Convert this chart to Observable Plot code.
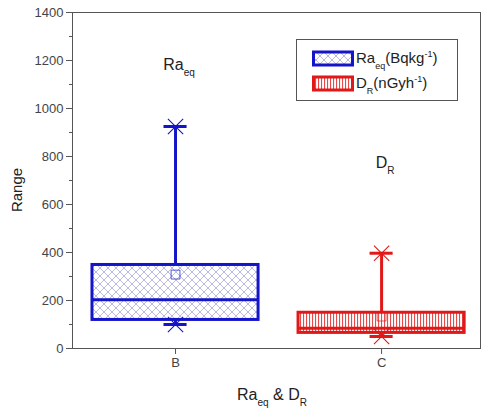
<!DOCTYPE html>
<html><head><meta charset="utf-8">
<script src="https://cdn.jsdelivr.net/npm/d3@7"></script>
<script src="https://cdn.jsdelivr.net/npm/@observablehq/plot@0.6"></script>
<style>body{margin:0;background:#fff} svg{display:block}</style>
</head><body><div id="chart"></div>
<script>
// ---- data ----
const categories = ["B", "C"];
const seriesNames = ["Ra_{eq}", "D_{R}"];
const legendLabels = ["Ra_{eq}(Bqkg^{-1})", "D_{R}(nGyh^{-1})"];
const minVals = [100, 50];
const q1Vals = [119, 65];
const medianVals = [203, 84];
const q3Vals = [348, 149];
const maxVals = [925, 397];
const meanVals = [308, 133];
const labelYVals = [1160, 750];
const yTicks = [0, 200, 400, 600, 800, 1000, 1200, 1400];
const yMinorTicks = [100, 300, 500, 700, 900, 1100, 1300];
const colors = ["#1414c8", "#e01818"];
const xTitle = "Ra_{eq} & D_{R}";
const yTitle = "Range";

const data = categories.map((c, i) => ({
  cat: c, pos: i + 1, min: minVals[i], q1: q1Vals[i], median: medianVals[i],
  q3: q3Vals[i], max: maxVals[i], mean: meanVals[i], labelY: labelYVals[i]
}));

const BW = 0.403, CW = 0.056;
const marks = [];
data.forEach((d, i) => {
  const col = colors[i];
  const one = [d];
  marks.push(
    Plot.ruleX(one, {x: "pos", y1: "q3", y2: "max", stroke: col, strokeWidth: 3}),
    Plot.ruleX(one, {x: "pos", y1: "min", y2: "q1", stroke: col, strokeWidth: 3}),
    Plot.rect(one, {x1: r => r.pos - BW, x2: r => r.pos + BW, y1: "q1", y2: "q3",
      fill: `url(#hatch${i})`, stroke: col, strokeWidth: 3}),
    Plot.ruleY(one, {x1: r => r.pos - BW, x2: r => r.pos + BW, y: "median", stroke: col, strokeWidth: 3}),
    Plot.ruleY(one, {x1: r => r.pos - CW, x2: r => r.pos + CW, y: "max", stroke: col, strokeWidth: 3}),
    Plot.ruleY(one, {x1: r => r.pos - CW, x2: r => r.pos + CW, y: "min", stroke: col, strokeWidth: 3}),
    Plot.dot(one, {x: "pos", y: "mean", symbol: "square", r: 5, stroke: col, strokeWidth: 1, fill: "none", strokeOpacity: 0.7}),
    Plot.dot(one, {x: "pos", y: "max", symbol: "times", r: 7, stroke: col, strokeWidth: 1.1}),
    Plot.dot(one, {x: "pos", y: "min", symbol: "times", r: 7, stroke: col, strokeWidth: 1.1})
  );
});

const chart = Plot.plot({
  width: 481, height: 415,
  marginLeft: 72, marginRight: 1, marginTop: 12, marginBottom: 67,
  style: {fontFamily: "'Liberation Sans', Arial, sans-serif", fontSize: "13px", color: "#444", background: "#fff", overflow: "visible"},
  x: {domain: [0.5, 2.48]},
  y: {domain: [0, 1400]},
  marks: [
    Plot.axisY({ticks: yTicks, tickFormat: d3.format("d"), tickSize: 6, tickPadding: 3, label: null, stroke: "#555"}),
    Plot.axisY({ticks: yMinorTicks, tickSize: 3, text: null, label: null, stroke: "#555"}),
    Plot.axisX({ticks: [1, 2], tickFormat: v => categories[v - 1], tickSize: 6, tickPadding: 3, label: null, stroke: "#555"}),
    ...marks,
    Plot.frame({stroke: "#555", strokeWidth: 1})
  ]
});

const svg = d3.select(chart);
// patterns
const defs = svg.insert("defs", ":first-child");
const p0 = defs.append("pattern").attr("id", "hatch0").attr("patternUnits", "userSpaceOnUse")
  .attr("width", 8).attr("height", 8);
p0.append("rect").attr("width", 8).attr("height", 8).attr("fill", "#fff");
p0.append("path").attr("d", "M0,0L8,8M8,0L0,8M-1,7L1,9M7,-1L9,1").attr("stroke", "#9c9cd4").attr("stroke-width", 0.7);
const p1 = defs.append("pattern").attr("id", "hatch1").attr("patternUnits", "userSpaceOnUse")
  .attr("width", 3).attr("height", 3);
p1.append("rect").attr("width", 3).attr("height", 3).attr("fill", "#fff");
p1.append("rect").attr("x", 0).attr("width", 1.1).attr("height", 3).attr("fill", "#e64a4a");

function rich(textSel, str, base) {
  const re = /([_^])\{([^}]*)\}/g;
  let last = 0, m, off = 0;
  const small = Math.round(base * 0.62);
  const add = (t, target, size) => {
    const ts = textSel.append("tspan").text(t);
    if (target !== off) ts.attr("dy", target - off);
    if (size) ts.attr("font-size", size);
    off = target;
  };
  while ((m = re.exec(str))) {
    if (m.index > last) add(str.slice(last, m.index), 0);
    add(m[2], m[1] === "_" ? base * 0.38 : -base * 0.4, small);
    last = re.lastIndex;
  }
  if (last < str.length) add(str.slice(last), 0);
  return textSel;
}

const xs = chart.scale("x"), ys = chart.scale("y");
const g = svg.append("g").attr("font-family", "'Liberation Sans', Arial, sans-serif").attr("fill", "#222");
// annotations
data.forEach((d, i) => {
  rich(g.append("text").attr("x", xs.apply(d.pos) + 4).attr("y", ys.apply(d.labelY))
    .attr("text-anchor", "middle").attr("font-size", 16), seriesNames[i], 16);
});
// axis titles
rich(g.append("text").attr("x", 272).attr("y", 400).attr("text-anchor", "middle").attr("font-size", 16), xTitle, 16);
g.append("text").attr("transform", "translate(22,190) rotate(-90)").attr("text-anchor", "middle")
  .attr("font-size", 15).text(yTitle);
// legend
const lg = g.append("g");
lg.append("rect").attr("x", 296.5).attr("y", 39.5).attr("width", 161).attr("height", 61)
  .attr("fill", "#fff").attr("stroke", "#555").attr("stroke-width", 1);
legendLabels.forEach((lab, i) => {
  const y0 = 52 + i * 25;
  lg.append("rect").attr("x", 313.5).attr("y", y0).attr("width", 39).attr("height", 13)
    .attr("fill", `url(#hatch${i})`).attr("stroke", colors[i]).attr("stroke-width", 3);
  rich(lg.append("text").attr("x", 356).attr("y", y0 + 11).attr("text-anchor", "start").attr("font-size", 15), lab, 15);
});

document.getElementById("chart").appendChild(chart);
</script>
</body></html>
